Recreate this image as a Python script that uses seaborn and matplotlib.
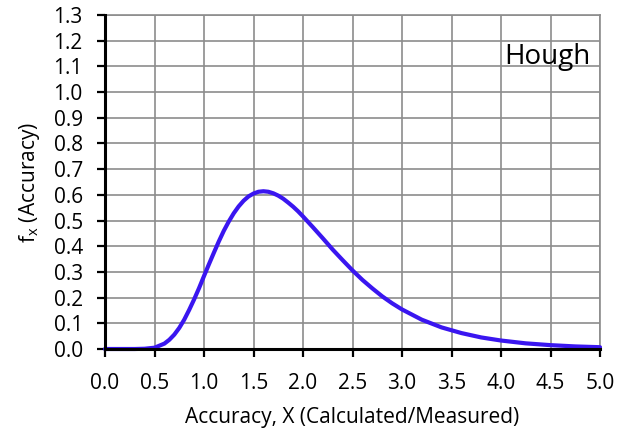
import matplotlib
matplotlib.use("Agg")
import matplotlib.pyplot as plt
import seaborn as sns
import pandas as pd

# Values
x_vals = [0.0, 0.1, 0.2, 0.3, 0.4, 0.5, 0.6, 0.65, 0.7, 0.75, 0.8, 0.85, 0.9, 0.95,
          1.0, 1.05, 1.1, 1.15, 1.2, 1.25, 1.3, 1.35, 1.4, 1.45, 1.5, 1.55, 1.6, 1.65,
          1.7, 1.75, 1.8, 1.85, 1.9, 1.95, 2.0, 2.1, 2.2, 2.3, 2.4, 2.5, 2.6, 2.7,
          2.8, 2.9, 3.0, 3.2, 3.4, 3.6, 3.8, 4.0, 4.25, 4.5, 4.75, 5.0]
fx_vals = [0.0, 0.0, 0.0, 0.0, 0.001, 0.005, 0.021, 0.036, 0.056, 0.082, 0.114, 0.152,
           0.193, 0.237, 0.284, 0.330, 0.375, 0.419, 0.460, 0.496, 0.528, 0.555, 0.577,
           0.594, 0.605, 0.612, 0.614, 0.612, 0.606, 0.597, 0.585, 0.570, 0.554, 0.536,
           0.516, 0.474, 0.431, 0.387, 0.346, 0.306, 0.269, 0.236, 0.205, 0.178, 0.154,
           0.114, 0.084, 0.062, 0.045, 0.033, 0.022, 0.015, 0.010, 0.007]
x_ticks = [0.0, 0.5, 1.0, 1.5, 2.0, 2.5, 3.0, 3.5, 4.0, 4.5, 5.0]
y_ticks = [0.0, 0.1, 0.2, 0.3, 0.4, 0.5, 0.6, 0.7, 0.8, 0.9, 1.0, 1.1, 1.2, 1.3]
label_text = "Hough"

sns.set_style("white")
plt.rcParams['font.family'] = ['Open Sans', 'DejaVu Sans']
plt.rcParams['mathtext.fontset'] = 'custom'
plt.rcParams['mathtext.rm'] = 'Open Sans'
plt.rcParams['mathtext.it'] = 'Open Sans'

df = pd.DataFrame({"x": x_vals, "fx": fx_vals})

fig = plt.figure(figsize=(6.29, 4.38), dpi=100)
ax = fig.add_axes([105/629, 1 - 349/438, (600 - 105)/629, (349 - 15)/438])

grid_col = "#8c8c8c"
ax.set_xticks(x_ticks)
ax.set_yticks(y_ticks)
ax.set_xticklabels([f"{t:.1f}" for t in x_ticks])
ax.set_yticklabels([f"{t:.1f}" for t in y_ticks])
ax.grid(True, color=grid_col, linewidth=1.2)
ax.set_axisbelow(True)

sns.lineplot(data=df, x="x", y="fx", ax=ax, color="#3a16f0", linewidth=3.0,
             solid_capstyle="round", solid_joinstyle="round", clip_on=False, zorder=5)

ax.set_xlim(0, 5)
ax.set_ylim(0, 1.3)

for side in ["top", "right"]:
    ax.spines[side].set_color(grid_col)
    ax.spines[side].set_linewidth(1.2)
for side in ["left", "bottom"]:
    ax.spines[side].set_color("black")
    ax.spines[side].set_linewidth(2.2)
    ax.spines[side].set_zorder(6)

ax.tick_params(axis="both", direction="out", length=6, width=1.6, color="black",
               labelsize=15, labelcolor="black")
ax.tick_params(axis="x", pad=11)
ax.tick_params(axis="y", pad=10)
ax.xaxis.set_ticks_position("bottom")
ax.yaxis.set_ticks_position("left")

ax.set_xlabel("Accuracy, X (Calculated/Measured)", fontsize=15, labelpad=10, color="black")
ax.set_ylabel(r"f$_\mathregular{x}$ (Accuracy)", fontsize=15, labelpad=8, color="black")

ax.text(4.9, 1.11, label_text, fontsize=20, ha="right", va="baseline", color="black")

fig.savefig("out.png", dpi=100)
